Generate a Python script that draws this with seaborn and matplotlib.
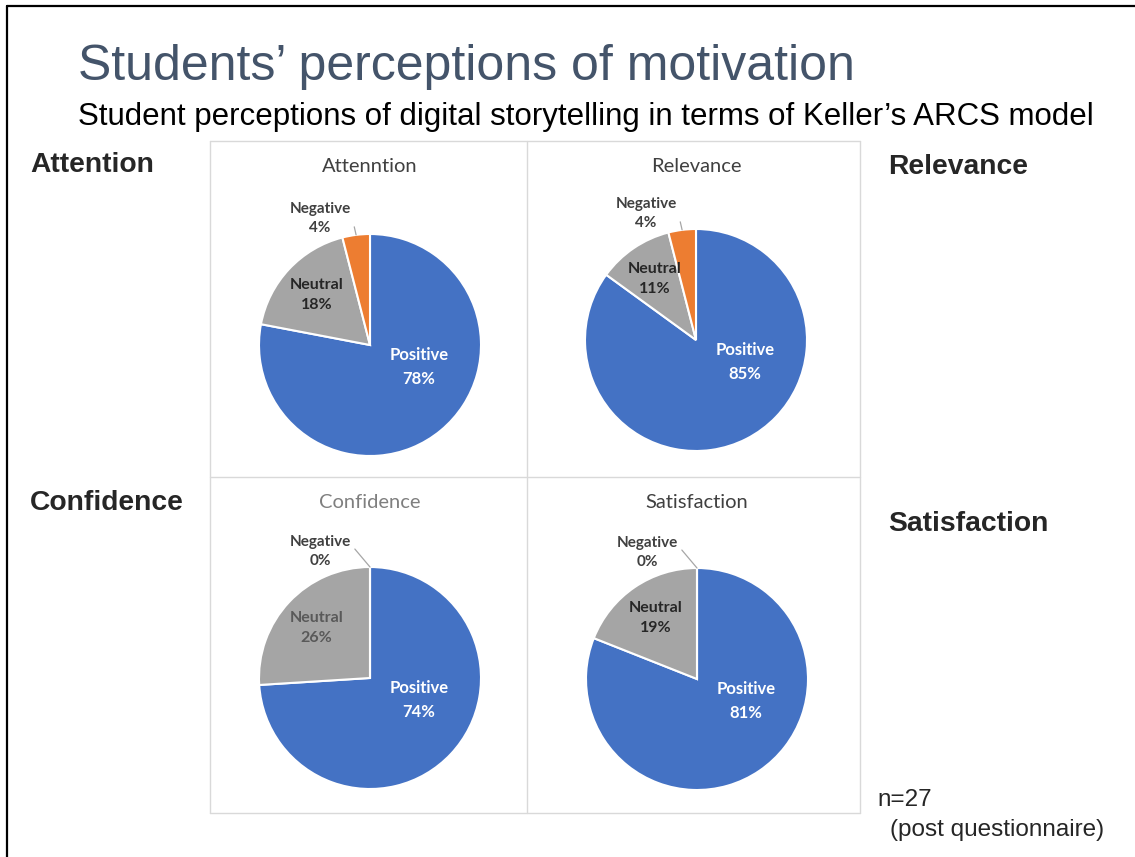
import matplotlib
matplotlib.use('Agg')
import matplotlib.pyplot as plt
import seaborn as sns
import numpy as np
from matplotlib.lines import Line2D

sns.set_theme(style='white')
plt.rcParams['font.family'] = ['Liberation Sans', 'DejaVu Sans']

# chart data (percent of respondents, n=27)
panel_titles = ['Attenntion', 'Relevance', 'Confidence', 'Satisfaction']
side_labels = ['Attention', 'Relevance', 'Confidence', 'Satisfaction']
categories = ['Positive', 'Neutral', 'Negative']
positive = [78, 85, 74, 81]
neutral = [18, 11, 26, 19]
negative = [4, 4, 0, 0]

colors = ['#4472C4', '#A5A5A5', '#ED7D31']
title_colors = ['#404040', '#404040', '#7F7F7F', '#404040']
neutral_colors = ['#262626', '#262626', '#595959', '#262626']
label_font = ['Lato', 'DejaVu Sans']

W, H = 1135, 857
fig = plt.figure(figsize=(W / 100, H / 100), dpi=100)


def fx(x):
    return x / W


def fy(y):
    return 1 - y / H


# slide frame (black line top and left)
fig.add_artist(Line2D([fx(7), fx(1135)], [fy(6), fy(6)], color='black', lw=1.6))
fig.add_artist(Line2D([fx(7), fx(7)], [fy(6), fy(857)], color='black', lw=1.6))

# headings
fig.text(fx(78), fy(80), 'Students\u2019 perceptions of motivation', fontsize=36,
         color='#44546A', va='baseline', ha='left')
fig.text(fx(78), fy(125), 'Student perceptions of digital storytelling in terms of Keller\u2019s ARCS model',
         fontsize=22.5, color='black', va='baseline', ha='left')

# side labels
side_pos = [(30, 172), (888, 174), (30, 510), (888, 531)]
for lab, (x, y) in zip(side_labels, side_pos):
    fig.text(fx(x), fy(y), lab, fontsize=20.3, fontweight='bold', va='baseline', ha='left')

fig.text(fx(877), fy(806), 'n=27', fontsize=17.5, va='baseline', ha='left')
fig.text(fx(890), fy(836), '(post questionnaire)', fontsize=17.5, va='baseline', ha='left')

# panel grid
cell_x = [210, 527, 860]
cell_y = [141, 477, 813]
grid_kw = dict(color='#D9D9D9', lw=1.0)
for x in cell_x:
    fig.add_artist(Line2D([fx(x), fx(x)], [fy(cell_y[0]), fy(cell_y[2])], **grid_kw))
for y in cell_y:
    fig.add_artist(Line2D([fx(cell_x[0]), fx(cell_x[2])], [fy(y), fy(y)], **grid_kw))

centers = [(370, 345), (696, 340), (370, 678), (697, 679)]
r = 111

for i in range(4):
    col, row = i % 2, i // 2
    x0, x1 = cell_x[col], cell_x[col + 1]
    y0, y1 = cell_y[row], cell_y[row + 1]
    cx, cy = centers[i]
    ax = fig.add_axes([fx(x0), fy(y1), (x1 - x0) / W, (y1 - y0) / H])
    vals = [positive[i], neutral[i], negative[i]]
    wedges, _ = ax.pie(vals, colors=colors, startangle=90, counterclock=False,
                       wedgeprops=dict(edgecolor='white', linewidth=1.5))
    ax.set_xlim((x0 - cx) / r, (x1 - cx) / r)
    ax.set_ylim((cy - y1) / r, (cy - y0) / r)
    ax.set_aspect('auto')
    ax.axis('off')

    ax.text(0, (cy - (y0 + 26)) / r, panel_titles[i], ha='center', va='center',
            fontsize=14.5, color=title_colors[i], family=label_font)

    # positive label
    ax.text(0.44, -0.2, f'{categories[0]}\n{positive[i]}%', ha='center', va='center',
            color='white', fontsize=12, fontweight='bold', linespacing=1.65,
            family=label_font)
    # neutral label at wedge middle
    w = wedges[1]
    mid = np.deg2rad((w.theta1 + w.theta2) / 2)
    ax.text(0.66 * np.cos(mid), 0.66 * np.sin(mid), f'{categories[1]}\n{neutral[i]}%',
            ha='center', va='center', color=neutral_colors[i], fontsize=11.5,
            fontweight='bold', linespacing=1.55, family=label_font)
    # negative label outside with leader line
    w = wedges[2]
    mid = np.deg2rad((w.theta1 + w.theta2) / 2)
    ax.annotate(f'{categories[2]}\n{negative[i]}%', xy=(np.cos(mid), np.sin(mid)),
                xytext=(-0.45, 1.14), ha='center', va='center', color='#404040',
                fontsize=11, fontweight='bold', linespacing=1.5, family=label_font,
                arrowprops=dict(arrowstyle='-', color='#A6A6A6', lw=0.9,
                                relpos=(1.0, 0.72), shrinkA=1, shrinkB=0))

fig.savefig('out.png', dpi=100, facecolor='white')
